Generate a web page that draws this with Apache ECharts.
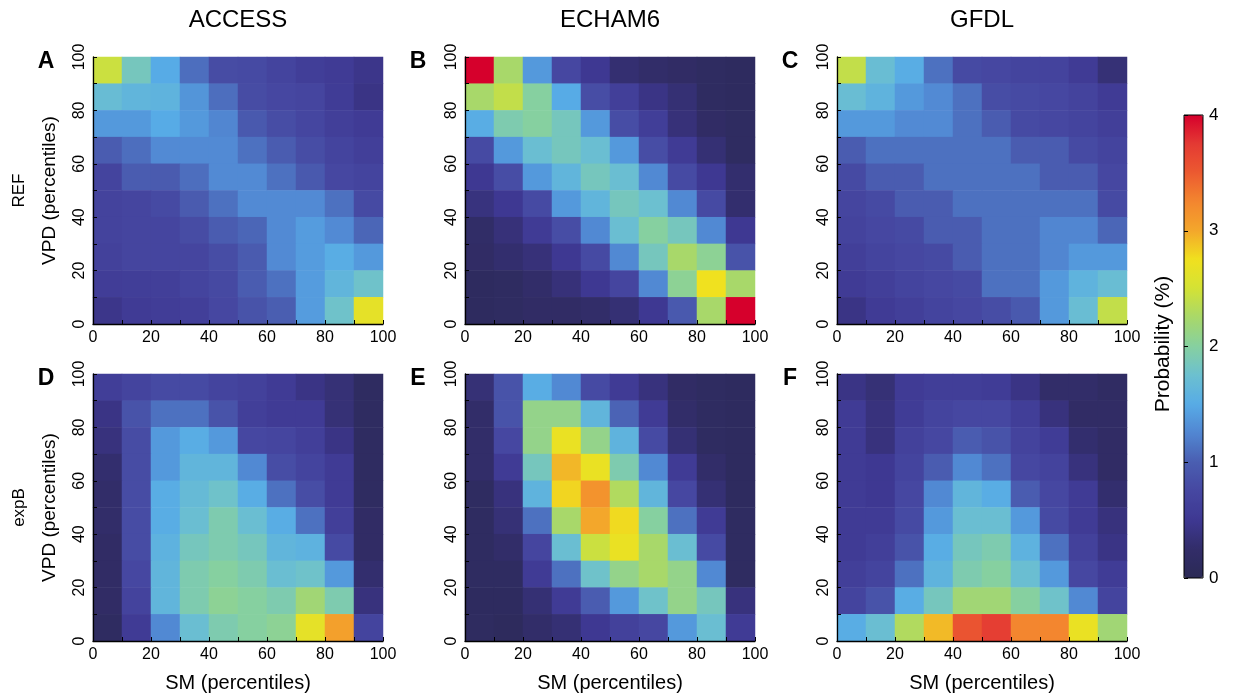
<!DOCTYPE html>
<html><head><meta charset="utf-8">
<script src="https://cdn.jsdelivr.net/npm/echarts@6/dist/echarts.min.js"></script>
<style>html,body{margin:0;padding:0;background:#fff}#c{width:1233px;height:698px}</style>
</head><body><div id="c"></div>
<script>
// ---- data ----
const smBins = ['0-10','10-20','20-30','30-40','40-50','50-60','60-70','70-80','80-90','90-100'];
const vpdBins = ['0-10','10-20','20-30','30-40','40-50','50-60','60-70','70-80','80-90','90-100'];
const modelNames = ['ACCESS','ECHAM6','GFDL'];
const experimentNames = ['REF','expB'];
const panelLetters = ['A','B','C','D','E','F'];
const axisTickValues = [0,20,40,60,80,100];
const colorbarTicks = [0,1,2,3,4];
// rows: VPD 90-100 (top) ... 0-10 (bottom); columns: SM 0-10 ... 90-100
const refACCESS = [
  [2.45,1.85,1.50,1.10,0.80,0.78,0.70,0.60,0.55,0.45],
  [1.70,1.62,1.60,1.35,1.10,0.80,0.75,0.72,0.57,0.42],
  [1.38,1.38,1.50,1.38,1.25,0.95,0.82,0.73,0.62,0.55],
  [0.98,1.10,1.28,1.28,1.28,1.12,0.98,0.82,0.70,0.62],
  [0.70,0.98,0.97,1.10,1.28,1.28,1.12,0.95,0.75,0.70],
  [0.68,0.72,0.78,0.97,1.12,1.28,1.28,1.28,1.12,0.78],
  [0.68,0.72,0.72,0.80,0.98,1.05,1.28,1.40,1.28,1.05],
  [0.65,0.72,0.72,0.72,0.82,0.97,1.28,1.40,1.52,1.38],
  [0.58,0.60,0.62,0.70,0.77,0.98,1.12,1.40,1.62,1.78],
  [0.45,0.55,0.58,0.62,0.75,0.88,1.00,1.40,1.78,2.65]
];
const refECHAM6 = [
  [4.00,2.25,1.38,0.75,0.50,0.30,0.25,0.20,0.15,0.12],
  [2.25,2.40,2.00,1.50,0.82,0.62,0.42,0.32,0.15,0.12],
  [1.52,1.92,2.00,1.85,1.38,0.82,0.60,0.35,0.20,0.15],
  [0.78,1.38,1.73,1.85,1.73,1.38,0.82,0.55,0.32,0.15],
  [0.50,0.82,1.38,1.62,1.85,1.73,1.27,0.78,0.50,0.28],
  [0.38,0.50,0.78,1.38,1.62,1.85,1.75,1.27,0.78,0.28],
  [0.22,0.35,0.55,0.82,1.27,1.73,2.00,1.85,1.27,0.50],
  [0.20,0.28,0.35,0.50,0.78,1.27,1.85,2.25,2.05,0.88],
  [0.12,0.15,0.25,0.35,0.50,0.72,1.27,2.05,2.75,2.25],
  [0.12,0.15,0.20,0.20,0.25,0.32,0.50,0.95,2.25,4.00]
];
const refGFDL = [
  [2.40,1.72,1.52,1.12,0.78,0.75,0.70,0.68,0.55,0.33],
  [1.72,1.60,1.38,1.28,1.12,0.82,0.78,0.75,0.68,0.55],
  [1.38,1.38,1.28,1.28,1.12,0.98,0.78,0.75,0.70,0.62],
  [0.98,1.12,1.12,1.12,1.12,1.12,0.98,0.98,0.78,0.70],
  [0.78,0.98,0.98,1.12,1.12,1.12,1.12,0.98,0.98,0.75],
  [0.72,0.78,0.98,0.98,1.12,1.12,1.12,1.12,1.12,0.78],
  [0.68,0.75,0.78,0.98,0.98,1.12,1.12,1.25,1.25,1.05],
  [0.62,0.70,0.75,0.78,0.98,1.12,1.12,1.25,1.38,1.38],
  [0.55,0.62,0.70,0.75,0.78,1.12,1.12,1.38,1.60,1.72],
  [0.42,0.55,0.62,0.70,0.75,0.82,0.95,1.38,1.72,2.40]
];
const expBACCESS = [
  [0.60,0.70,0.78,0.78,0.70,0.65,0.55,0.42,0.33,0.15],
  [0.42,0.88,1.12,1.12,0.88,0.62,0.55,0.55,0.33,0.15],
  [0.37,0.80,1.38,1.52,1.38,0.75,0.72,0.62,0.42,0.15],
  [0.28,0.80,1.38,1.62,1.62,1.27,0.82,0.70,0.55,0.15],
  [0.25,0.80,1.52,1.68,1.78,1.52,1.12,0.82,0.55,0.15],
  [0.25,0.80,1.52,1.73,1.92,1.73,1.52,1.12,0.62,0.20],
  [0.20,0.80,1.58,1.85,1.92,1.85,1.62,1.58,0.78,0.20],
  [0.20,0.75,1.62,1.92,2.00,1.92,1.73,1.78,1.38,0.28],
  [0.20,0.68,1.62,1.92,2.05,2.00,1.92,2.20,1.92,0.37],
  [0.15,0.55,1.27,1.73,1.92,2.00,2.05,2.65,3.05,0.70]
];
const expBECHAM6 = [
  [0.33,0.88,1.52,1.27,0.78,0.55,0.37,0.20,0.15,0.12],
  [0.25,0.88,2.10,2.10,1.62,1.03,0.55,0.25,0.15,0.12],
  [0.25,0.75,2.10,2.70,2.10,1.60,0.78,0.32,0.15,0.12],
  [0.25,0.55,1.85,2.93,2.70,1.92,1.27,0.55,0.25,0.12],
  [0.15,0.37,1.60,2.80,3.15,2.30,1.62,0.75,0.32,0.12],
  [0.15,0.33,1.12,2.25,3.00,2.78,2.00,1.12,0.55,0.15],
  [0.15,0.25,0.72,1.73,2.45,2.70,2.25,1.73,0.78,0.15],
  [0.15,0.15,0.55,1.12,1.78,2.10,2.25,2.10,1.27,0.15],
  [0.12,0.12,0.32,0.55,0.98,1.38,1.78,2.10,1.85,0.37],
  [0.14,0.10,0.25,0.32,0.50,0.65,0.75,1.38,1.73,0.55]
];
const expBGFDL = [
  [0.42,0.33,0.55,0.60,0.60,0.57,0.42,0.25,0.25,0.17],
  [0.55,0.37,0.57,0.70,0.75,0.75,0.60,0.37,0.20,0.20],
  [0.55,0.37,0.65,0.75,0.98,0.88,0.68,0.57,0.28,0.20],
  [0.55,0.50,0.70,0.98,1.27,1.12,0.75,0.68,0.37,0.20],
  [0.55,0.50,0.75,1.27,1.62,1.52,0.98,0.75,0.55,0.28],
  [0.55,0.55,0.78,1.38,1.73,1.73,1.38,0.78,0.55,0.37],
  [0.55,0.62,0.88,1.52,1.85,1.92,1.58,1.12,0.65,0.42],
  [0.62,0.70,1.12,1.60,1.92,2.00,1.73,1.38,0.75,0.57],
  [0.70,0.88,1.52,1.85,2.20,2.20,2.00,1.78,1.27,0.70],
  [1.52,1.73,2.30,2.92,3.55,3.72,3.25,3.25,2.70,2.20]
];
const panelData = [refACCESS, refECHAM6, refGFDL, expBACCESS, expBECHAM6, expBGFDL];

// ---- colormap ----
const cmap = ['#2b2a55','#322d69','#3e3892','#4647a1','#4a5eb1','#5186d1','#57abe6','#6cc0d0',
              '#86d0a0','#a8d86a','#d4e235','#f0e11f','#f3a72b','#f3862f','#ec5a30','#e43a33','#d6002c'];

const FONT = 'Liberation Sans, Arial, Helvetica, sans-serif';
const colLeft = [93, 465, 837];
const rowTop = [57, 374];
const PW = 290, PH = 267;

const grids = [], xAxes = [], yAxes = [], series = [];
for (let p = 0; p < 6; p++) {
  const r = Math.floor(p / 3), c = p % 3;
  grids.push({left: colLeft[c], top: rowTop[r], width: PW, height: PH});
  xAxes.push({type: 'category', gridIndex: p, data: smBins, show: false, boundaryGap: true});
  yAxes.push({type: 'category', gridIndex: p, data: vpdBins, show: false, boundaryGap: true});
  xAxes.push({type: 'value', gridIndex: p, min: 0, max: 100, interval: 10, position: 'bottom',
    axisLine: {show: true, onZero: false, lineStyle: {color: '#000', width: 1.3}},
    axisTick: {show: true, inside: true, length: 4, lineStyle: {color: '#000'}},
    splitLine: {show: false},
    axisLabel: {color: '#000', fontFamily: FONT, fontSize: 16, margin: 6,
      formatter: v => axisTickValues.indexOf(v) >= 0 ? String(v) : ''}, z: 5});
  yAxes.push({type: 'value', gridIndex: p, min: 0, max: 100, interval: 10, position: 'left',
    axisLine: {show: true, onZero: false, lineStyle: {color: '#000', width: 1.3}},
    axisTick: {show: true, inside: true, length: 4, lineStyle: {color: '#000'}},
    splitLine: {show: false},
    axisLabel: {color: '#000', fontFamily: FONT, fontSize: 16, margin: 5, rotate: 90,
      formatter: v => axisTickValues.indexOf(v) >= 0 ? String(v) : ''}, z: 5});
  const d = [];
  const m = panelData[p];
  for (let i = 0; i < 10; i++) for (let j = 0; j < 10; j++) d.push([j, 9 - i, m[i][j]]);
  series.push({type: 'heatmap', xAxisIndex: 2 * p, yAxisIndex: 2 * p, data: d,
    emphasis: {disabled: true}, progressive: 0, silent: true});
}
grids.push({left: 1184, top: 115, width: 19, height: 463, show: true, borderColor: '#000', borderWidth: 1, backgroundColor: 'transparent', z: 10});
xAxes.push({type: 'value', gridIndex: 6, show: false, min: 0, max: 1});
yAxes.push({type: 'value', gridIndex: 6, min: 0, max: 4, interval: 1, position: 'right',
  axisLine: {show: false}, splitLine: {show: false},
  axisTick: {show: true, inside: false, length: 4, lineStyle: {color: '#000'}},
  axisLabel: {color: '#000', fontFamily: FONT, fontSize: 17, margin: 6,
    formatter: v => colorbarTicks.indexOf(v) >= 0 ? String(v) : ''}, z: 10});

const graphics = [];
function txt(x, y, s, size, opts) {
  opts = opts || {};
  graphics.push({type: 'text', x: x, y: y, rotation: opts.rot || 0, silent: true, z: 100,
    style: {text: s, x: 0, y: 0, fill: '#000', font: (opts.bold ? 'bold ' : '') + size + 'px ' + FONT,
      textAlign: 'center', textVerticalAlign: 'middle'}});
}
for (let c = 0; c < 3; c++) txt(colLeft[c] + PW / 2, 20, modelNames[c], 24);
for (let p = 0; p < 6; p++) {
  const r = Math.floor(p / 3), c = p % 3;
  txt(colLeft[c] - 47, rowTop[r] + 5, panelLetters[p], 23, {bold: true});
}
for (let r = 0; r < 2; r++) {
  txt(19, rowTop[r] + PH / 2, experimentNames[r], 17, {rot: Math.PI / 2});
  txt(50, rowTop[r] + PH / 2, 'VPD (percentiles)', 19, {rot: Math.PI / 2});
}
for (let c = 0; c < 3; c++) txt(colLeft[c] + PW / 2, 683, 'SM (percentiles)', 20);
txt(1163, 344, 'Probability (%)', 21, {rot: Math.PI / 2});

const chart = echarts.init(document.getElementById('c'), null, {renderer: 'canvas'});
chart.setOption({
  animation: false,
  backgroundColor: '#fff',
  grid: grids, xAxis: xAxes, yAxis: yAxes, series: series,
  visualMap: {type: 'continuous', min: 0, max: 4, calculable: false, hoverLink: false,
    seriesIndex: [0,1,2,3,4,5], orient: 'vertical', left: 1184, top: 115,
    itemWidth: 19, itemHeight: 463, padding: 0, text: null, z: 1,
    inRange: {color: cmap}},
  graphic: graphics
});
</script></body></html>
